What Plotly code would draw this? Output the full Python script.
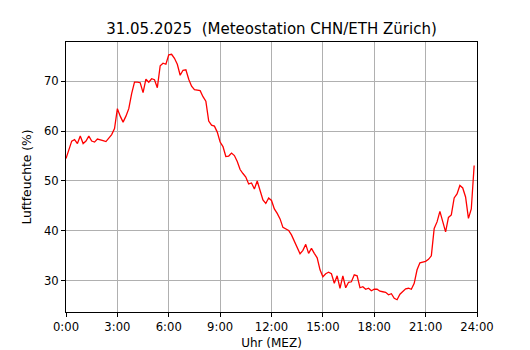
import plotly.graph_objects as go

# Relative humidity, 10-minute values from 0:00 to 23:50
humidity = [
    54.5, 56.5, 58.0, 58.3, 57.5, 59.0, 57.5, 58.0, 59.0, 58.0,
    57.8, 58.4, 58.3, 58.1, 57.9, 58.7, 59.3, 60.5, 64.5, 63.0,
    61.8, 63.0, 64.5, 67.5, 69.8, 69.8, 69.7, 67.7, 70.4, 69.8,
    70.5, 70.3, 68.7, 73.1, 73.6, 73.4, 75.3, 75.4, 74.6, 73.4,
    71.2, 72.2, 72.3, 70.4, 69.0, 68.3, 68.2, 68.1, 66.9, 66.0,
    62.0, 61.2, 61.0, 59.8, 57.8, 56.9, 54.9, 55.0, 55.6, 55.1,
    53.9, 52.3, 51.5, 50.8, 49.4, 49.6, 48.4, 50.0, 48.1, 46.2,
    45.5, 46.6, 46.1, 44.4, 43.5, 42.4, 40.7, 40.4, 40.1, 39.2,
    38.0, 36.7, 35.4, 36.1, 37.3, 35.5, 36.5, 35.5, 34.6, 32.2,
    30.8, 31.4, 31.7, 31.4, 29.5, 31.0, 28.5, 31.0, 28.6, 29.7,
    29.8, 31.2, 31.0, 28.6, 28.8, 28.3, 28.5, 28.0, 28.3, 28.3,
    27.9, 27.8, 27.7, 27.2, 27.4, 26.5, 26.2, 27.3, 27.9, 28.4,
    28.5, 28.3, 29.5, 32.2, 33.6, 33.7, 33.9, 34.3, 35.0, 40.5,
    41.8, 43.9, 41.7, 39.8, 42.7, 43.2, 46.6, 47.4, 49.1, 48.6,
    46.8, 42.5, 44.4, 53.1,
]
hours = [i / 6 for i in range(len(humidity))]

x_tick_vals = [0, 3, 6, 9, 12, 15, 18, 21, 24]
x_tick_text = ["0:00", "3:00", "6:00", "9:00", "12:00", "15:00", "18:00", "21:00", "24:00"]
y_tick_vals = [30, 40, 50, 60, 70]

title_text = "31.05.2025 \u00a0(Meteostation CHN/ETH Zürich)"
x_title = "Uhr (MEZ)"
y_title = "Luftfeuchte (%)"

ymin, ymax = min(humidity), max(humidity)
pad = 0.05 * (ymax - ymin)

# page body has an 8px margin; figure is sized so the plot lands where the reference has it
W, H = 522, 342
ML, MR, MT, MB = 58, 53, 34, 38

fig = go.Figure()
fig.add_trace(go.Scatter(x=hours, y=humidity, mode="lines",
                         line=dict(color="#ff0000", width=1.3),
                         hoverinfo="skip", showlegend=False))

axis_common = dict(
    showline=True, linecolor="black", linewidth=1, mirror=True,
    ticks="outside", ticklen=4, tickwidth=1, tickcolor="black",
    showgrid=True, gridcolor="#b0b0b0", gridwidth=1, zeroline=False,
    automargin=False,
    tickfont=dict(family="DejaVu Sans", size=11.6, color="black"),
)

fig.update_layout(
    width=W, height=H,
    paper_bgcolor="white", plot_bgcolor="white",
    margin=dict(l=ML, r=MR, t=MT, b=MB, autoexpand=False),
    title=dict(text=title_text, x=(ML + (W - MR)) / 2 / W, xanchor="center",
               y=1 - 21 / H, yanchor="middle",
               font=dict(family="DejaVu Sans", size=15, color="black")),
    xaxis=dict(range=[0, 24], tickvals=x_tick_vals, ticktext=x_tick_text,
               title=dict(text=x_title, standoff=6,
                          font=dict(family="DejaVu Sans", size=12, color="black")),
               **axis_common),
    yaxis=dict(range=[ymin - pad, ymax + pad], tickvals=y_tick_vals,
               title=dict(text=y_title, standoff=9,
                          font=dict(family="DejaVu Sans", size=12.3, color="black")),
               **axis_common),
)

fig.write_html("out.html")
